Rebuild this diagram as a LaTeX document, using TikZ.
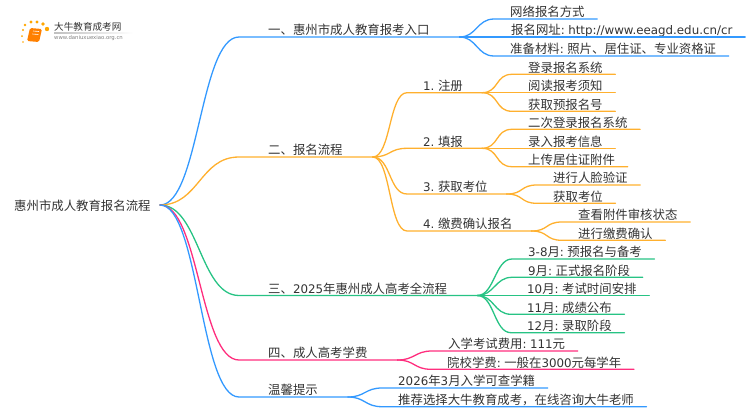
\documentclass[tikz,border=0pt]{standalone}
\usepackage{xcolor}
\usepackage{fontspec}
\usetikzlibrary{calc}
\setmainfont{Noto Sans CJK SC}
\newfontfamily\latinfont[Scale=0.955, WordSpace=0.6]{DejaVu Sans}
\newcommand{\la}[1]{{\latinfont #1}}
\definecolor{mapblue}{HTML}{3399FF}
\definecolor{maporange}{HTML}{FFB02E}
\definecolor{mapgreen}{HTML}{27C384}
\definecolor{mappink}{HTML}{FF2E7E}
\definecolor{maptext}{HTML}{333333}

\begin{document}
\begin{tikzpicture}[x=1pt, y=-1pt]
\tikzstyle{topic} = [anchor=south west, inner sep=0pt, text height=10.5pt, text depth=2pt, text=maptext, font=\fontsize{12.4pt}{14pt}\selectfont]
\tikzstyle{branch} = [line width=1.3pt, line cap=round]
\useasboundingbox (0,0) rectangle (750,410);

% logo
\foreach \px/\py/\pr in {25/25/1.3, 31/22/1.6, 37/22/1.7, 43/24/1.8, 47/29/2.2, 23/30/1.2, 22/36/1, 23/42/.8}
  \fill[orange!70!yellow] (\px,\py) circle (\pr);
\fill[orange, rounded corners=1.5pt] (30,28) -- (42,29) -- (39,42) -- (27,41) -- cycle;
\draw[white, line width=.6pt] (33,31) -- (39,31.5);
\draw[white, line width=.6pt] (32.4,34) -- (38.4,34.5);
\shade[left color=gray!50, right color=white] (54,32.8) rectangle (133,33.4);
\node (logotitle) [anchor=west, inner sep=0pt, text=maptext, font=\fontsize{9.6pt}{10pt}\selectfont] at (54,27) {大牛教育成考网};
\node (logourl) [anchor=west, inner sep=0pt, text=gray, font=\latinfont\fontsize{5.6pt}{6pt}\selectfont] at (54,38.5) {www.daniuxuexiao.org.cn};

\node (root) [topic] at (14,212.2) {惠州市成人教育报名流程};
\coordinate (root-end) at (160,205);

% first level
\node (entry) [topic] at (268,37) {一、惠州市成人教育报考入口};
\node (apply) [topic] at (268,157) {二、报名流程};
\node (yearflow) [topic] at (268,295.5) {三、\la{2025}年惠州成人高考全流程};
\node (fees) [topic] at (268,360) {四、成人高考学费};
\node (tips) [topic] at (268,397) {温馨提示};

% second level
\node (entrya) [topic] at (510,19) {网络报名方式};
\node (entryb) [topic] at (511,37) {报名网址\la{: http://www.eeagd.edu.cn/cr}};
\node (entryc) [topic] at (510,56) {准备材料\la{: }照片、居住证、专业资格证};
\node (register) [topic] at (423,92.7) {\la{1. }注册};
\node (fill) [topic] at (423,148.3) {\la{2. }填报};
\node (seat) [topic] at (423,194) {\la{3. }获取考位};
\node (pay) [topic] at (423,231) {\la{4. }缴费确认报名};
\node (marcha) [topic] at (528,259) {\la{3-8}月\la{: }预报名与备考};
\node (sept) [topic] at (528,277.3) {\la{9}月\la{: }正式报名阶段};
\node (octo) [topic] at (527,295.5) {\la{10}月\la{: }考试时间安排};
\node (nove) [topic] at (527,314.3) {\la{11}月\la{: }成绩公布};
\node (dece) [topic] at (527,332.7) {\la{12}月\la{: }录取阶段};
\node (feea) [topic] at (448,351) {入学考试费用\la{: 111}元};
\node (feeb) [topic] at (447,369.3) {院校学费\la{: }一般在\la{3000}元每学年};
\node (tipa) [topic] at (398,388) {\la{2026}年\la{3}月入学可查学籍};
\node (tipb) [topic] at (398,406.7) {推荐选择大牛教育成考，在线咨询大牛老师};

% third level
\node (rega) [topic] at (528,74.3) {登录报名系统};
\node (regb) [topic] at (528,92.7) {阅读报考须知};
\node (regc) [topic] at (528,111.3) {获取预报名号};
\node (filla) [topic] at (528,129.3) {二次登录报名系统};
\node (fillb) [topic] at (528,148.3) {录入报考信息};
\node (fillc) [topic] at (528,166.7) {上传居住证附件};
\node (seata) [topic] at (553,185) {进行人脸验证};
\node (seatb) [topic] at (553,203.3) {获取考位};
\node (paya) [topic] at (578,222) {查看附件审核状态};
\node (payb) [topic] at (578,240.3) {进行缴费确认};

% connectors
\foreach \clr/\to in {mapblue/entry, maporange/apply, mapgreen/yearflow, mappink/fees, mapblue/tips}
  \draw[branch, \clr] (root-end) .. controls +(39,0) and +(-39,0) .. ([xshift=-29pt]\to.south west) -- ([xshift=30pt]\to.south east) coordinate (\to-end);
\foreach \to in {register, fill, seat, pay}
  \draw[branch, maporange] (apply-end) .. controls +(18,0) and +(-18,0) .. ([xshift=-16pt]\to.south west) -- ([xshift=19pt]\to.south east) coordinate (\to-end);
\foreach \clr/\from/\to in {mapblue/entry/entrya, mapblue/entry/entryb, mapblue/entry/entryc,
  maporange/register/rega, maporange/register/regb, maporange/register/regc,
  maporange/fill/filla, maporange/fill/fillb, maporange/fill/fillc,
  maporange/seat/seata, maporange/seat/seatb, maporange/pay/paya, maporange/pay/payb,
  mapgreen/yearflow/marcha, mapgreen/yearflow/sept, mapgreen/yearflow/octo, mapgreen/yearflow/nove, mapgreen/yearflow/dece,
  mappink/fees/feea, mappink/fees/feeb, mapblue/tips/tipa, mapblue/tips/tipb}
  \draw[branch, \clr] (\from-end) .. controls +(17,0) and +(-17,0) .. ([xshift=-16pt]\to.south west) -- ([xshift=12.5pt]\to.south east);
\end{tikzpicture}
\end{document}
